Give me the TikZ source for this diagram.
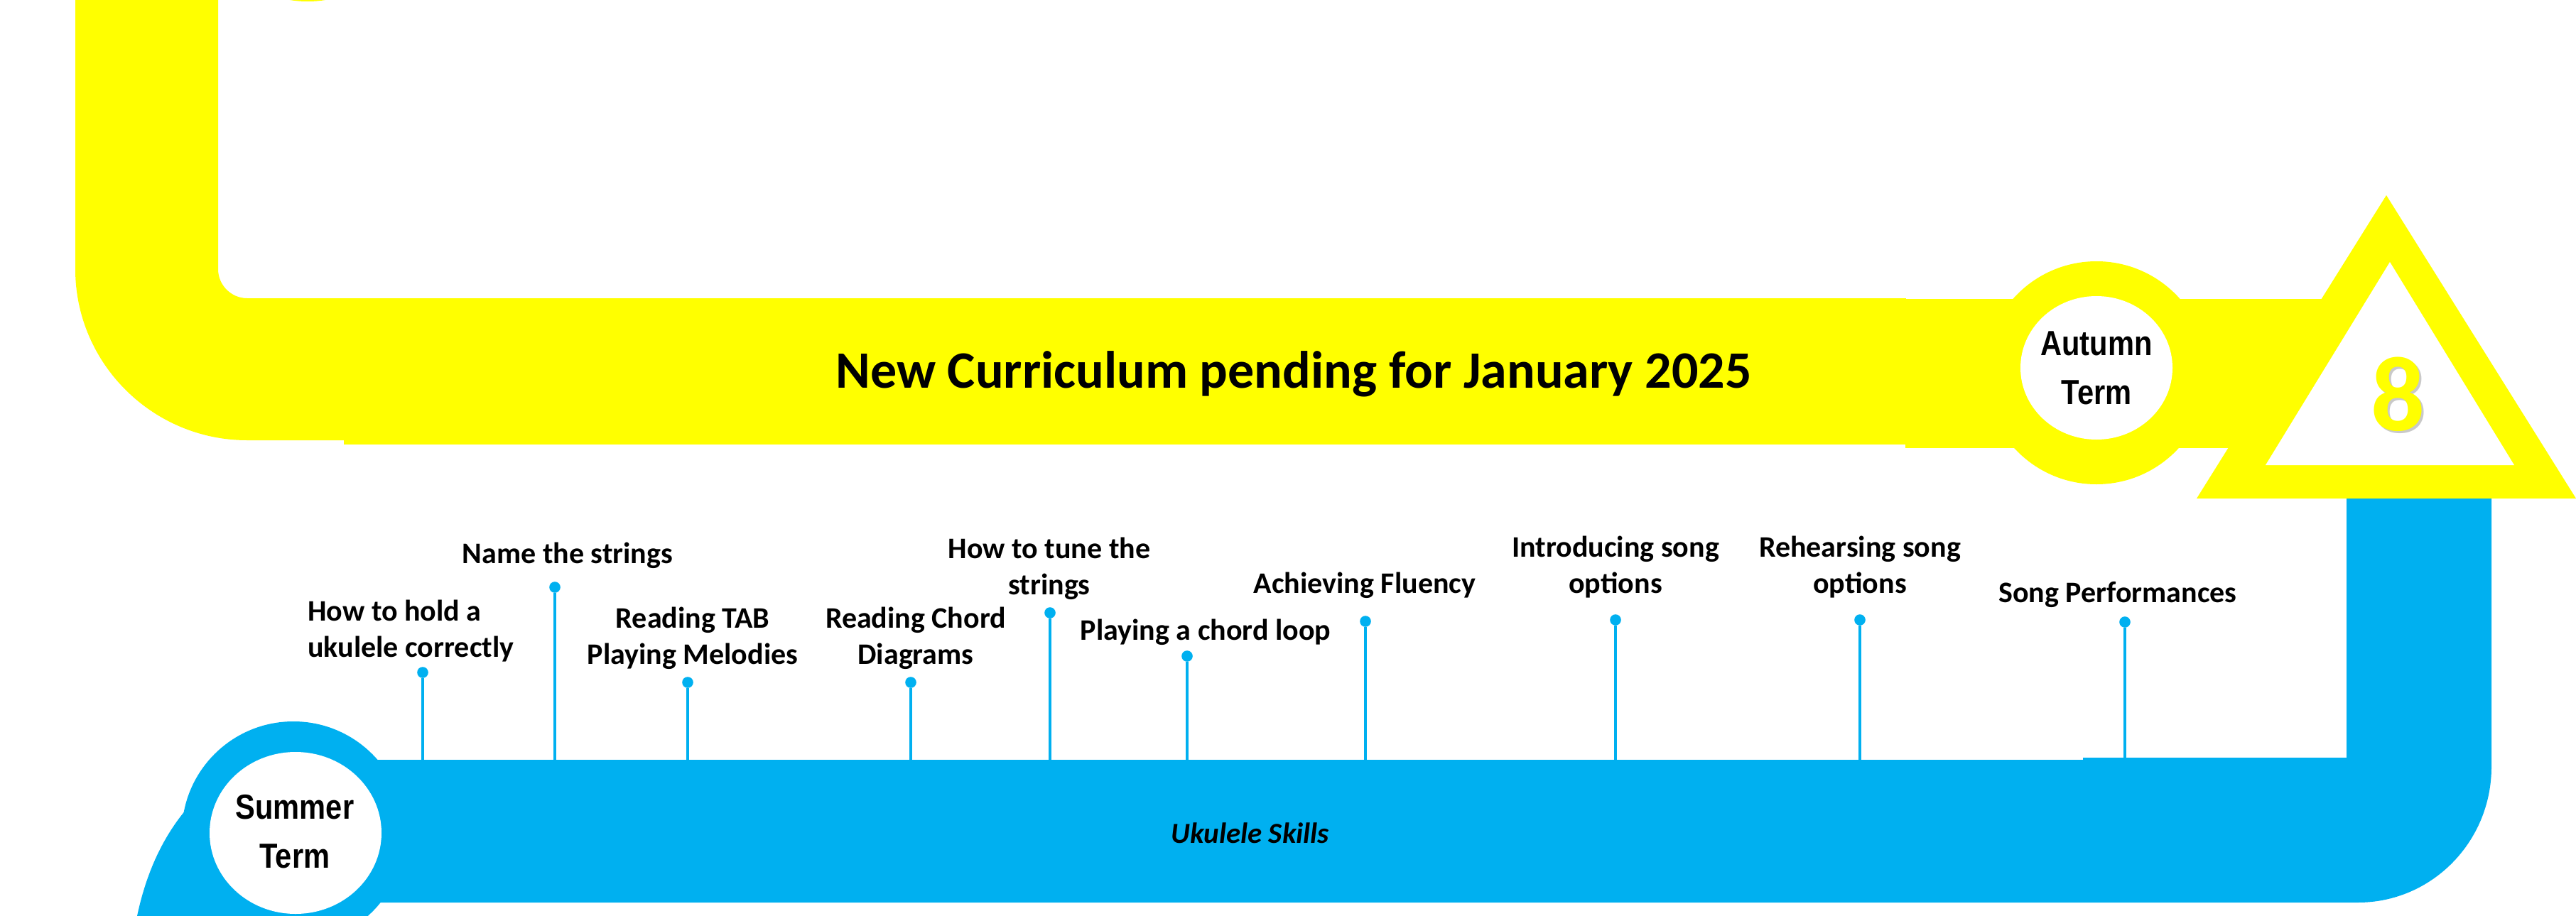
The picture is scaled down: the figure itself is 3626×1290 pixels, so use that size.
\documentclass[tikz,border=0pt]{standalone}
\usepackage{fontspec}
\setmainfont{Carlito}
\newfontfamily\condfont[FakeStretch=0.85]{Liberation Sans}
\definecolor{yel}{HTML}{FFFF00}
\definecolor{sky}{HTML}{00B0F0}
\begin{document}
\begin{tikzpicture}[x=0.5pt,y=-0.5pt,
  lab/.style={font=\bfseries\fontsize{21}{25.5}\selectfont, inner sep=0pt, align=center, anchor=base},
  pindot/.style={circle, fill=sky, inner sep=0pt, minimum size=7.8pt},
  pinline/.style={draw=sky, line width=2pt},
  term/.style={font=\condfont\bfseries\fontsize{24.5}{34.5}\selectfont, align=center, inner sep=0pt, anchor=base}]
\useasboundingbox (0,0) rectangle (3626,1290);
\clip (0,0) rectangle (3626,1290);
\fill[white] (0,0) rectangle (3626,1290);

% ---------- yellow path ----------
\fill[yel] (433,-155) circle[radius=157];
\fill[yel] (106,-10) -- (106,379) .. controls (106,512) and (215,620) .. (348,620)
  -- (485,620) -- (485,420) -- (348,420) .. controls (325.4,420) and (307,401.6) .. (307,379)
  -- (307,-10) -- cycle;
\fill[yel] (484,420) rectangle (2683,626);
\fill[yel] (2682,421) rectangle (3300,631);
\fill[yel] (2951,525) circle[radius=157];
\fill[white] (2951,518) ellipse[x radius=107, y radius=101];

% ---------- blue path ----------
\fill[sky] (3303,690) -- (3507,690) -- (3507,1080)
  .. controls (3507,1185.5) and (3422.8,1271) .. (3319,1271)
  -- (529,1271) -- (529,1070) -- (2932,1070) -- (2932,1067) -- (3303,1067) -- cycle;
\fill[sky] (192,1295) .. controls (205,1230) and (230,1175) .. (269,1132) -- (450,1132) -- (450,1295) -- cycle;
\fill[sky] (413,1173) circle[radius=157];
\fill[white] (416,1173) ellipse[x radius=121, y radius=114];

% ---------- triangle ----------
\fill[yel] (3092,702) -- (3359,275) -- (3626,702) -- cycle;
\fill[white] (3189,655) -- (3364,369) -- (3539,655) -- cycle;
\node[font=\bfseries\fontsize{75}{75}\selectfont, text=black!35, opacity=0.6, inner sep=0pt, anchor=base] (eightsh) at (3378,609) {8};
\node[font=\bfseries\fontsize{75}{75}\selectfont, text=yel, inner sep=0pt, anchor=base] (eight) at (3375,606) {8};

% ---------- texts ----------
\node[font=\bfseries\fontsize{37}{44}\selectfont, inner sep=0pt, anchor=base] (title) at (1821,546) {New Curriculum pending for January 2025};
\node[term] (autumn) at (2951,569) {Autumn\\Term};
\node[term] (summer) at (415,1222) {Summer\\Term};
\node[font=\bfseries\itshape\fontsize{20.5}{24}\selectfont, inner sep=0pt, anchor=base] (skills) at (1760,1187) {Ukulele Skills};

% ---------- labels (anchor at baseline of last line) ----------
\node[lab, align=left, anchor=base west] (l1) at (433,925) {How to hold a\\ukulele correctly};
\node[lab] (l2) at (799,793) {Name the strings};
\node[lab] (l3) at (975,935) {Reading TAB\\Playing Melodies};
\node[lab] (l4) at (1289,935) {Reading Chord\\Diagrams};
\node[lab] (l5) at (1477,837) {How to tune the\\strings};
\node[lab] (l6) at (1697,901) {Playing a chord loop};
\node[lab] (l7) at (1921,835) {Achieving Fluency};
\node[lab] (l8) at (2274,835) {Introducing song\\options};
\node[lab] (l9) at (2618,835) {Rehearsing song\\options};
\node[lab] (l10) at (2981,848) {Song Performances};

% ---------- pins ----------
\foreach \i/\x/\y in {1/595/947, 2/781/827, 3/968/961, 4/1282/961, 5/1478/863,
                      6/1671/924, 7/1922/875, 8/2274/873, 9/2618/873, 10/2991/876} {
  \node[pindot] (p\i) at (\x,\y) {};
  \coordinate (b\i) at (\x,1072);
  \draw[pinline] (p\i) -- (b\i);
}
\end{tikzpicture}
\end{document}
